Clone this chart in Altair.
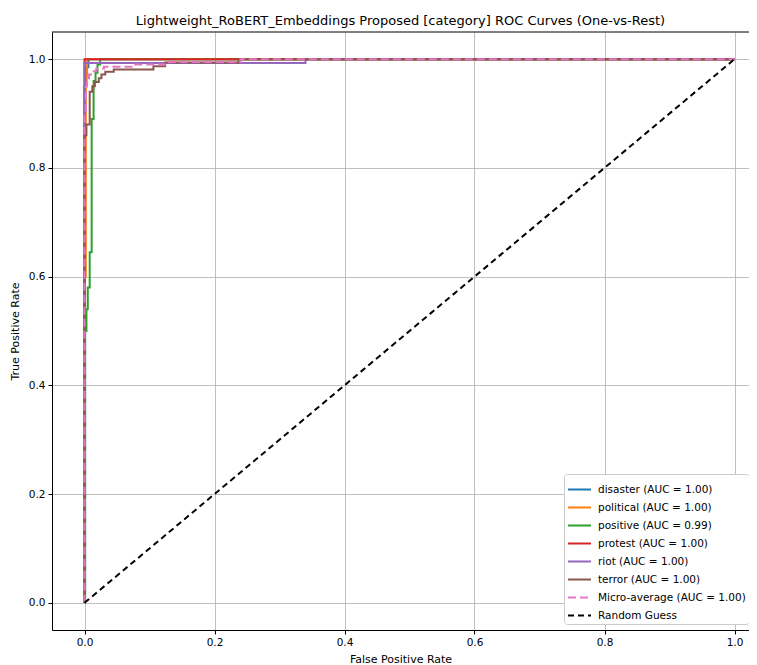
import altair as alt
import pandas as pd

TITLE = "Lightweight_RoBERT_Embeddings Proposed [category] ROC Curves (One-vs-Rest)"

labels = [
    "disaster (AUC = 1.00)",
    "political (AUC = 1.00)",
    "positive (AUC = 0.99)",
    "protest (AUC = 1.00)",
    "riot (AUC = 1.00)",
    "terror (AUC = 1.00)",
    "Micro-average (AUC = 1.00)",
    "Random Guess",
]
colors = ["#1f77b4", "#ff7f0e", "#2ca02c", "#d62728", "#9467bd", "#8c564b", "#e377c2", "#000000"]
dashes = [[1, 0], [1, 0], [1, 0], [1, 0], [1, 0], [1, 0], [8, 4], [6, 4]]
widths = [2, 2, 2, 2, 2, 2, 3.5, 1.5]

disaster_fpr = [0, 0, 0.003, 0.003, 0.006, 0.006, 1]
disaster_tpr = [0, 0.95, 0.95, 0.985, 0.985, 1, 1]

political_fpr = [0, 0, 0.002, 0.002, 0.004, 0.004, 1]
political_tpr = [0, 0.6, 0.6, 0.97, 0.97, 1, 1]

positive_fpr = [0, 0.001, 0.001, 0.003, 0.003, 0.005, 0.005, 0.008, 0.008, 0.011, 0.011,
                0.014, 0.014, 0.017, 0.017, 0.020, 0.020, 0.024, 0.024, 1]
positive_tpr = [0, 0, 0.50, 0.50, 0.54, 0.54, 0.58, 0.58, 0.645, 0.645, 0.89,
                0.89, 0.96, 0.96, 0.975, 0.975, 0.99, 0.99, 1, 1]

protest_fpr = [0, 0, 1]
protest_tpr = [0, 1, 1]

riot_fpr = [0, 0, 0.34, 0.34, 1]
riot_tpr = [0, 0.993, 0.993, 1, 1]

terror_fpr = [0, 0, 0.003, 0.003, 0.008, 0.008, 0.012, 0.012, 0.016, 0.016, 0.022, 0.022,
              0.026, 0.026, 0.032, 0.032, 0.045, 0.045, 0.106, 0.106, 0.124, 0.124, 0.237, 0.237, 1]
terror_tpr = [0, 0.86, 0.86, 0.88, 0.88, 0.94, 0.94, 0.95, 0.95, 0.958, 0.958, 0.965,
              0.965, 0.972, 0.972, 0.977, 0.977, 0.981, 0.981, 0.987, 0.987, 0.994, 0.994, 1, 1]

micro_fpr = [0, 0, 0.002, 0.002, 0.004, 0.004, 0.007, 0.007, 0.012, 0.012, 0.018, 0.018,
             0.03, 0.03, 0.078, 0.078, 0.13, 0.13, 0.24, 0.24, 1]
micro_tpr = [0, 0.90, 0.90, 0.95, 0.95, 0.965, 0.965, 0.972, 0.972, 0.978, 0.978, 0.983,
             0.983, 0.986, 0.986, 0.99, 0.99, 0.995, 0.995, 1, 1]

random_fpr = [0, 1]
random_tpr = [0, 1]

series = [
    (disaster_fpr, disaster_tpr),
    (political_fpr, political_tpr),
    (positive_fpr, positive_tpr),
    (protest_fpr, protest_tpr),
    (riot_fpr, riot_tpr),
    (terror_fpr, terror_tpr),
    (micro_fpr, micro_tpr),
    (random_fpr, random_tpr),
]

rows = []
for lab, (fx, ty) in zip(labels, series):
    for i, (a, b) in enumerate(zip(fx, ty)):
        rows.append({"series": lab, "fpr": a, "tpr": b, "idx": i})
df = pd.DataFrame(rows)

FONT = "DejaVu Sans"
ticks = [0, 0.2, 0.4, 0.6, 0.8, 1.0]

PAD_LEFT = 44
PLOT_W = 697  # view runs off the right edge of the window, as in the reference
X_MAX = -0.05 + PLOT_W / 650.0

x_enc = alt.X("fpr:Q", scale=alt.Scale(domain=[-0.05, X_MAX], nice=False, zero=False),
              axis=alt.Axis(values=ticks, format=".1f", title="False Positive Rate"))
y_enc = alt.Y("tpr:Q", scale=alt.Scale(domain=[-0.05, 1.05], nice=False, zero=False),
              axis=alt.Axis(values=ticks, format=".1f", title="True Positive Rate"))

legend = alt.Legend(
    title=None, orient="none", legendX=512, legendY=442,
    symbolType="stroke", symbolSize=529, rowPadding=-6,
    labelFontSize=10.5, labelFont=FONT, labelColor="#000000", labelLimit=300,
    fillColor="#ffffff", strokeColor="#cccccc", cornerRadius=3, padding=3,
    labelOffset=6,
)

color_enc = alt.Color("series:N", scale=alt.Scale(domain=labels, range=colors), legend=legend)
dash_enc = alt.StrokeDash("series:N", scale=alt.Scale(domain=labels, range=dashes), legend=legend)
width_enc = alt.StrokeWidth("series:N", scale=alt.Scale(domain=labels, range=widths), legend=legend)

layers = []
for lab in labels:
    layers.append(
        alt.Chart(df).transform_filter(alt.datum.series == lab)
        .mark_line(clip=True)
        .encode(x=x_enc, y=y_enc, color=color_enc, strokeDash=dash_enc,
                strokeWidth=width_enc, order=alt.Order("idx:Q"))
    )

# top spine of the frame
top_spine = alt.Chart(alt.Data(values=[{}])).mark_rule(color="#000000", strokeWidth=1).encode(
    x=alt.value(0), x2=alt.value(PLOT_W), y=alt.value(0)
)

chart = alt.layer(*layers, top_spine).properties(
    width=PLOT_W, height=598,
    title=alt.TitleParams(TITLE, font=FONT, fontSize=13, fontWeight="normal", color="#000000",
                          anchor="middle", offset=4),
    autosize=alt.AutoSizeParams(type="none"),
    padding={"left": PAD_LEFT, "top": 24, "right": 0, "bottom": 40},
).configure_view(
    stroke=None
).configure_axis(
    domain=True, domainColor="#000000", domainWidth=1,
    grid=True, gridColor="#b0b0b0", gridWidth=0.8,
    tickColor="#000000", tickSize=4, labelFont=FONT, labelFontSize=10.5, labelColor="#000000",
    titleFont=FONT, titleFontSize=11, titleFontWeight="normal", titleColor="#000000",
    labelPadding=3,
).configure_axisY(titlePadding=8).configure_axisX(titlePadding=6)

chart.save("out.html", embed_options={"renderer": "svg", "actions": False})
